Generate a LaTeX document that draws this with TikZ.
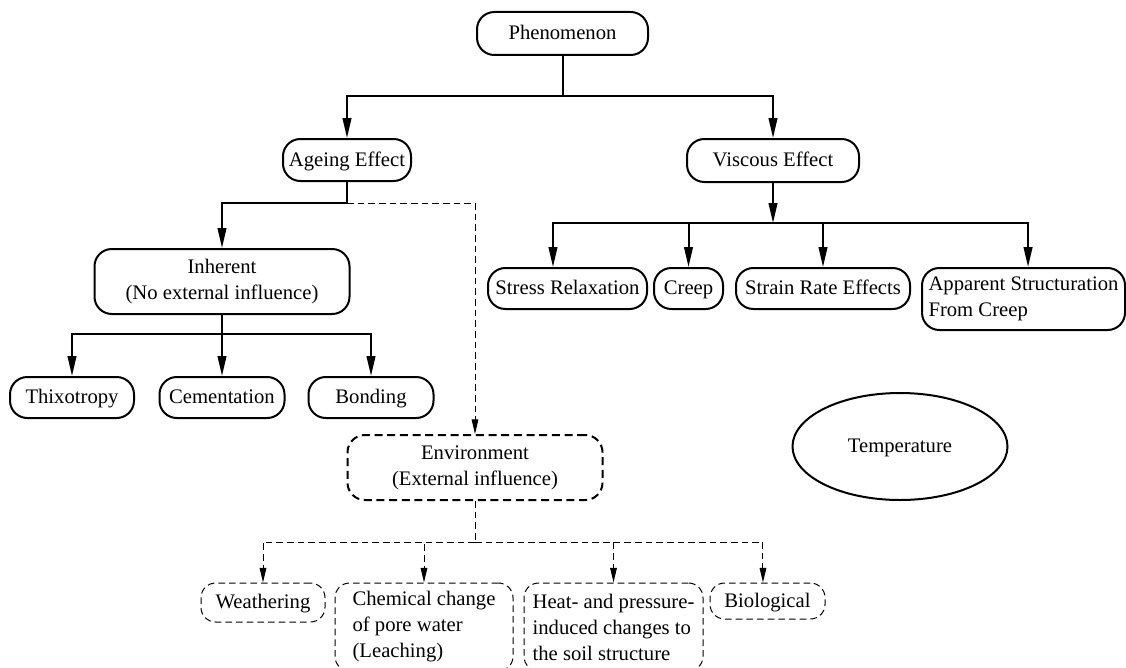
\documentclass[tikz,border=0pt]{standalone}
\usepackage{fontspec}
\setmainfont{Liberation Serif}
\usetikzlibrary{arrows.meta,shapes.geometric}

\begin{document}
\begin{tikzpicture}[x=0.75pt,y=0.75pt,yscale=-1,xscale=1,
  txt/.style={font=\fontsize{15.5}{19.5}\selectfont, inner sep=1pt, align=center},
  oneline/.style={text height=11pt, text depth=1.5pt},
  solidbox/.style={txt, draw, line width=1.5pt, rounded corners=13pt},
  dashbox/.style={txt, draw, line width=0.75pt, dash pattern=on 5pt off 3pt, rounded corners=11pt},
  envbox/.style={txt, draw, line width=1.5pt, dash pattern=on 6pt off 3.5pt, rounded corners=13pt},
  conn/.style={line width=1.5pt},
  arr/.style={conn, -{Triangle[length=15pt,width=6.5pt]}},
  dconn/.style={line width=0.75pt, dash pattern=on 5pt off 3pt},
  darr/.style={dconn, -{Triangle[length=11pt,width=5pt]}}
]
\useasboundingbox (0,0) rectangle (1126,667);

% Text Node
\node (phen) at (562.5,33.5) [solidbox, oneline, minimum width=128.25pt, minimum height=32.25pt] {Phenomenon};
% Text Node
\node (ageing) at (347,160) [solidbox, oneline, minimum width=96pt, minimum height=31.5pt] {Ageing Effect};
% Text Node
\node (viscous) at (773,160.5) [solidbox, oneline, minimum width=129pt, minimum height=32.25pt] {Viscous Effect};
% Text Node
\node (inherent) at (222,281.5) [solidbox, minimum width=191.25pt, minimum height=48.75pt] {Inherent\\(No external influence)};
% Text Node
\node (thix) at (72,397.5) [solidbox, oneline, minimum width=93pt, minimum height=30.75pt] {Thixotropy};
% Text Node
\node (cement) at (222,397.5) [solidbox, oneline, minimum width=93.75pt, minimum height=30.75pt] {Cementation};
% Text Node
\node (bond) at (371,397.5) [solidbox, oneline, minimum width=93.75pt, minimum height=30.75pt] {Bonding};
% Text Node
\node (stress) at (567.5,288.5) [solidbox, oneline, minimum width=119.25pt, minimum height=30.75pt] {Stress Relaxation};
% Text Node
\node (creep) at (688.5,288.5) [solidbox, oneline, minimum width=51.75pt, minimum height=30.75pt] {Creep};
% Text Node
\node (strain) at (823,288.5) [solidbox, oneline, minimum width=130.5pt, minimum height=30.75pt] {Strain Rate Effects};
% Text Node
\node (appar) at (1023.5,299) [solidbox, align=left, minimum width=152.25pt, minimum height=46.5pt] {Apparent Structuration\\From Creep};
% Text Node
\node (env) at (475,467.5) [envbox, minimum width=191.25pt, minimum height=48.75pt] {Environment\\(External influence)};
% Text Node
\node (weath) at (263,602.5) [dashbox, oneline, minimum width=93pt, minimum height=29.25pt] {Weathering};
% Text Node
\node (chem) at (424,627) [dashbox, align=left, minimum width=133.5pt, minimum height=66pt] {Chemical change\\of pore water\\(Leaching)};
% Text Node
\node (heat) at (613.5,627) [dashbox, align=left, minimum width=134.25pt, minimum height=66pt] {Heat- and pressure-\\induced changes to\\the soil structure};
% Text Node
\node (bio) at (767.5,601) [dashbox, oneline, minimum width=86.25pt, minimum height=27pt] {Biological};
% Ellipse
\node (temp) at (900,446.5) [txt, oneline, draw, ellipse, line width=1.5pt, minimum width=161.25pt, minimum height=80.25pt] {Temperature};

%Branch points
\coordinate (pbus) at (562.5,96);
\coordinate (abus) at (347,203);
\coordinate (vbus) at (773,223);
\coordinate (ibus) at (222,334);
\coordinate (ebus) at (475,542);

%Straight Lines
\draw [conn] (phen) -- (pbus);
\draw [arr] (pbus) -| (ageing);
\draw [arr] (pbus) -| (viscous);
%Straight Lines
\draw [conn] (ageing) -- (abus);
\draw [arr] (abus) -| (inherent);
\draw [darr] (abus) -| (env);
%Straight Lines
\draw [conn] (inherent) -- (ibus);
\draw [arr] (ibus) -| (thix);
\draw [arr] (ibus) -| (cement);
\draw [arr] (ibus) -| (bond);
%Straight Lines
\draw [arr] (viscous) -- (vbus);
\draw [arr] (vbus) -| ([xshift=-10.9pt]stress.north);
\draw [arr] (vbus) -| (creep);
\draw [arr] (vbus) -| (strain);
\draw [arr] (vbus) -| ([xshift=3.4pt]appar.north);
%Straight Lines
\draw [dconn] (env) -- (ebus);
\draw [darr] (ebus) -| (weath);
\draw [darr] (ebus) -| (chem);
\draw [darr] (ebus) -| (heat);
\draw [darr] (ebus) -| ([xshift=-3.4pt]bio.north);

\end{tikzpicture}
\end{document}
